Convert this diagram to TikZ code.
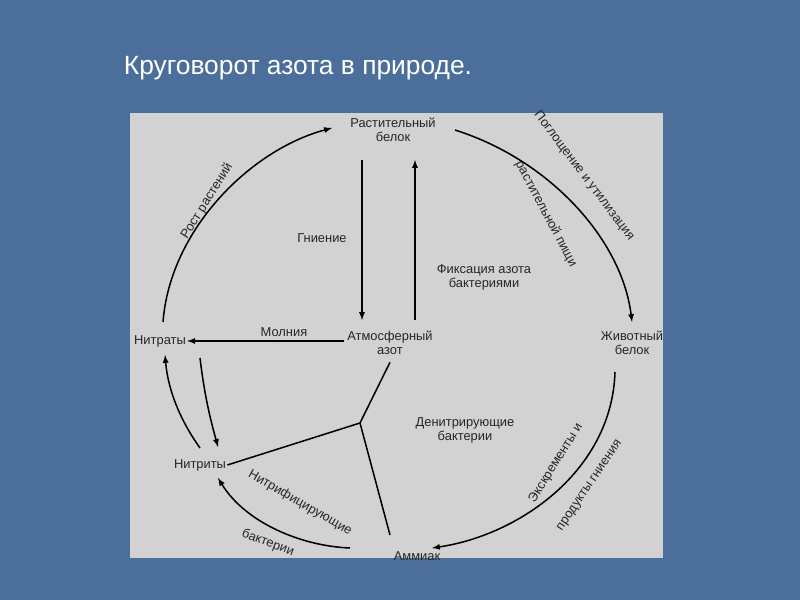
\documentclass[tikz,border=0pt]{standalone}
\usepackage{fontspec}
\setmainfont{Liberation Sans}
\usetikzlibrary{arrows}
\definecolor{slide}{HTML}{4C6E9B}
\definecolor{panel}{HTML}{D2D2D2}
\tikzstyle{txt} = [font=\fontsize{11pt}{12pt}\selectfont, align=center, inner sep=1pt, text=black!85]
\tikzstyle{arrow} = [line width=1.3pt,->,>=latex]
\tikzstyle{plain} = [line width=1.3pt]

\begin{document}
\begin{tikzpicture}[x=0.03cm, y=-0.03cm]

% Background and panel
\fill[slide] (0,0) rectangle (800,600);
\fill[panel] (130,113) rectangle (663,558);
\node (T) [text=white, font=\fontsize{22.5pt}{24pt}\selectfont] at (298,68) {Круговорот азота в природе.};

% Substances
\node (R) [txt] at (393,130) {Растительный\\белок};
\node (Zh) [txt] at (632,343) {Животный\\белок};
\node (A) [txt] at (390,343) {Атмосферный\\азот};
\node (Nt) [txt] at (160,341) {Нитраты};
\node (Ni) [txt] at (200,465) {Нитриты};
\node (Am) [txt, anchor=south] at (417,562) {Аммиак};
\coordinate (J) at (360,423);

% Process labels
\node (L1) [txt] at (322,238) {Гниение};
\node (L2) [txt] at (484,277) {Фиксация азота\\бактериями};
\node (L3) [txt] at (284,332) {Молния};
\node (L4) [txt] at (465,430) {Денитрирующие\\бактерии};
\node (L5) [txt, rotate=58] at (207,201) {Рост растений};
\node (L6) [txt, rotate=-53] at (584,176) {Поглощение и утилизация};
\node (L7) [txt, rotate=-62] at (546,214) {растительной пищи};
\node (L8) [txt, rotate=58] at (556,463) {Экскременты и};
\node (L9) [txt, rotate=56] at (590,486) {продукты гниения};
\node (L10) [txt, rotate=-30] at (300,503) {Нитрифицирующие};
\node (L11) [txt, rotate=-20] at (268,543) {бактерии};

% Connecting arrows
\draw [arrow] (163,322) .. controls (170,230) and (250,150) .. (332,128);
\draw [arrow] (455,130) .. controls (550,160) and (622,240) .. (632,322);
\draw [arrow] (615,372) .. controls (612,470) and (520,535) .. (432,548);
\draw [arrow] (350,548) .. controls (300,546) and (245,522) .. (218,478);
\draw [arrow] (200,358) .. controls (205,400) and (212,425) .. (218,447);
\draw [arrow] (200,448) .. controls (180,420) and (168,390) .. (165,355);
\draw [arrow] (362,160) -- (362,320);
\draw [arrow] (415,320) -- (415,160);
\draw [arrow] (A.west |- Nt.east) ++(-2,0) -- (Nt.east);
\draw [plain] (A.south) ++(0,6) -- (J);
\draw [plain] (J) -- (Ni.east);
\draw [plain] (J) -- (390,535);

\end{tikzpicture}
\end{document}
